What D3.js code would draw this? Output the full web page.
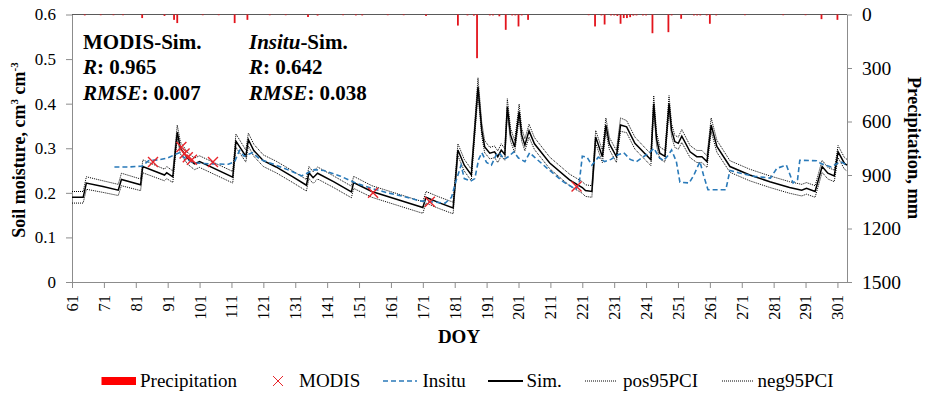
<!DOCTYPE html>
<html>
<head>
<meta charset="utf-8">
<script src="https://cdn.jsdelivr.net/npm/d3@7"></script>
<style>
  body { margin: 0; background: #fff; }
  text { font-family: "Liberation Serif", "Times New Roman", serif; fill: #000; }
</style>
</head>
<body>
<div id="chart"></div>
<script>
// simulated soil moisture, vertices (DOY, cm3/cm3)
var simDays = [61, 64.5, 65.5, 70.7, 75.5, 76.5, 82.5, 83.2, 90, 90.7, 92.6, 94, 95, 97.3, 99.4, 101, 111.4, 112.4, 115.5, 116.3,
  118, 121, 125, 130, 134.5, 135.3, 136.6, 138, 143, 148.6, 149.3, 155, 163, 171, 172, 176, 180.5, 182, 184, 186.2,
  188.3, 189.5, 190.4, 192, 193.5, 194.5, 195.6, 196.7, 197.5, 198.5, 199.8, 201.2, 202, 203, 204.3, 206, 210.8, 217, 221, 222,
  224, 225.2, 227.3, 228.4, 229.5, 231.7, 233, 234.9, 237.5, 242.5, 243.4, 244.3, 245.3, 246.9, 248.2, 249, 250, 251.1, 252.2, 254.8,
  256.9, 258.5, 260.1, 261.4, 263.2, 267.3, 273.5, 279.8, 286, 289.8, 291.3, 294, 296.2, 298, 300, 301.2, 303.2, 304];
var simVals = [0.190, 0.190, 0.222, 0.214, 0.206, 0.230, 0.218, 0.259, 0.240, 0.245, 0.236, 0.336, 0.300, 0.277, 0.265, 0.270, 0.235, 0.316, 0.282, 0.319,
  0.295, 0.272, 0.258, 0.237, 0.217, 0.245, 0.234, 0.244, 0.225, 0.202, 0.223, 0.203, 0.185, 0.167, 0.190, 0.178, 0.166, 0.296, 0.262, 0.240,
  0.438, 0.340, 0.303, 0.289, 0.292, 0.281, 0.296, 0.286, 0.393, 0.330, 0.303, 0.382, 0.330, 0.307, 0.339, 0.310, 0.267, 0.229, 0.212, 0.205,
  0.203, 0.325, 0.281, 0.352, 0.310, 0.281, 0.352, 0.348, 0.311, 0.274, 0.400, 0.320, 0.289, 0.282, 0.400, 0.340, 0.315, 0.311, 0.327, 0.292,
  0.281, 0.281, 0.270, 0.352, 0.304, 0.259, 0.240, 0.225, 0.212, 0.206, 0.210, 0.203, 0.259, 0.244, 0.238, 0.292, 0.266, 0.262];
var posVals = [0.203, 0.203, 0.236, 0.227, 0.219, 0.244, 0.231, 0.274, 0.253, 0.259, 0.249, 0.352, 0.314, 0.290, 0.278, 0.283, 0.248, 0.332, 0.296, 0.334,
  0.309, 0.285, 0.271, 0.250, 0.230, 0.259, 0.247, 0.258, 0.238, 0.215, 0.237, 0.216, 0.198, 0.180, 0.203, 0.191, 0.179, 0.310, 0.275, 0.253,
  0.458, 0.356, 0.317, 0.302, 0.305, 0.294, 0.310, 0.299, 0.411, 0.345, 0.317, 0.399, 0.345, 0.321, 0.354, 0.324, 0.280, 0.242, 0.225, 0.218,
  0.216, 0.340, 0.295, 0.368, 0.324, 0.295, 0.368, 0.362, 0.325, 0.287, 0.418, 0.335, 0.303, 0.295, 0.418, 0.355, 0.329, 0.325, 0.342, 0.306,
  0.295, 0.295, 0.283, 0.368, 0.318, 0.272, 0.253, 0.238, 0.225, 0.219, 0.223, 0.216, 0.273, 0.257, 0.251, 0.306, 0.279, 0.275];
var negVals = [0.177, 0.177, 0.208, 0.201, 0.194, 0.216, 0.205, 0.245, 0.227, 0.232, 0.223, 0.322, 0.287, 0.264, 0.252, 0.257, 0.222, 0.302, 0.269, 0.305,
  0.282, 0.259, 0.245, 0.224, 0.204, 0.232, 0.221, 0.231, 0.212, 0.189, 0.210, 0.190, 0.172, 0.154, 0.177, 0.165, 0.153, 0.283, 0.249, 0.227,
  0.420, 0.326, 0.290, 0.276, 0.279, 0.268, 0.283, 0.273, 0.378, 0.316, 0.290, 0.367, 0.316, 0.294, 0.325, 0.297, 0.254, 0.216, 0.199, 0.192,
  0.190, 0.311, 0.268, 0.338, 0.297, 0.268, 0.338, 0.335, 0.298, 0.261, 0.385, 0.306, 0.276, 0.269, 0.385, 0.326, 0.302, 0.298, 0.313, 0.279,
  0.268, 0.268, 0.257, 0.338, 0.291, 0.246, 0.227, 0.212, 0.199, 0.193, 0.197, 0.190, 0.246, 0.231, 0.225, 0.279, 0.253, 0.249];

// in situ observations
var insituDays = [74.3, 79, 83, 85, 88, 91, 93, 94.7, 96, 99, 105, 110, 112, 113.5, 115, 117.5, 120, 125, 130, 133,
  135, 137, 140, 145, 150, 155, 160, 165, 170, 178, 180, 181.5, 183, 184, 186, 187.3, 188.5, 189.5, 191, 192.5,
  194, 195, 196.5, 198, 199.5, 201, 203, 204.5, 206, 210, 215, 219, 220, 221, 222.5, 224, 226, 228, 230, 232,
  234, 236, 238, 240, 242, 243.5, 245, 246.5, 248, 249, 250.5, 251.6, 254.5, 256, 257.9, 259, 260.4, 266, 267.3, 270,
  275, 280, 282, 285, 287.1, 288.5, 289.2, 294.5, 296, 299, 302, 304];
var insituVals = [0.258, 0.258, 0.260, 0.272, 0.274, 0.278, 0.285, 0.290, 0.280, 0.267, 0.265, 0.264, 0.270, 0.295, 0.282, 0.290, 0.275, 0.262, 0.248, 0.238,
  0.245, 0.252, 0.250, 0.238, 0.222, 0.210, 0.200, 0.192, 0.182, 0.177, 0.190, 0.229, 0.262, 0.232, 0.226, 0.232, 0.275, 0.290, 0.268, 0.262,
  0.285, 0.290, 0.275, 0.282, 0.292, 0.278, 0.270, 0.290, 0.280, 0.255, 0.225, 0.208, 0.220, 0.282, 0.280, 0.262, 0.280, 0.270, 0.275, 0.285,
  0.290, 0.275, 0.270, 0.280, 0.290, 0.300, 0.280, 0.272, 0.285, 0.296, 0.270, 0.224, 0.222, 0.240, 0.270, 0.240, 0.207, 0.207, 0.250, 0.245,
  0.237, 0.233, 0.255, 0.262, 0.222, 0.230, 0.273, 0.272, 0.265, 0.258, 0.270, 0.262];

// MODIS retrievals
var modisDays = [86.4, 95.3, 96.3, 97.3, 98.6, 105.2, 155.4, 173.2, 219.2];
var modisVals = [0.269, 0.303, 0.288, 0.280, 0.274, 0.269, 0.200, 0.180, 0.214];

// daily precipitation, mm
var rainDays = [65, 70, 74, 77, 83, 90, 93, 94, 102, 107, 112, 116, 123, 128, 135, 138, 146, 150, 152, 160,
  165, 172, 182, 185, 187, 188, 192, 193, 195, 197, 199, 200, 201, 202, 204, 223, 225, 227, 228, 230,
  231, 232, 233, 234, 235, 236, 237, 238, 240, 241, 243, 248, 249, 252, 256, 257, 258, 260, 261, 263,
  272, 284, 291, 296, 301];
var rainMm = [5, 4, 4, 4, 20, 8, 30, 48, 4, 4, 48, 30, 4, 4, 14, 6, 4, 5, 5, 4,
  4, 8, 62, 5, 6, 245, 5, 5, 10, 86, 5, 5, 67, 5, 30, 4, 67, 5, 56, 5,
  5, 8, 52, 20, 20, 15, 6, 5, 5, 5, 105, 99, 5, 24, 5, 5, 5, 5, 52, 5,
  4, 4, 4, 26, 30];

var xTicks = d3.range(61, 302, 10);
var yTicks = [0, 0.1, 0.2, 0.3, 0.4, 0.5, 0.6];
var pTicks = [0, 300, 600, 900, 1200, 1500];

var W = 934, H = 397;
var plotL = 72, plotR = 847, plotT = 14.5, plotB = 282;
var axisGrey = '#8c8c8c';
var serif = '"Liberation Serif", "Times New Roman", serif';

var svg = d3.select('#chart').append('svg').attr('width', W).attr('height', H);

var x = d3.scaleLinear().domain([61, 304]).range([plotL, plotR]);
var y = d3.scaleLinear().domain([0, 0.6]).range([plotB, plotT]);
var yP = d3.scaleLinear().domain([0, 1500]).range([plotT, plotB]);

function zip(a, b) { return a.map(function(d, i) { return [d, b[i]]; }); }

// axes
var gx = svg.append('g').attr('transform', 'translate(0,' + plotB + ')')
  .call(d3.axisBottom(x).tickValues(xTicks).tickSize(6).tickSizeOuter(0).tickFormat(d3.format('d')));
gx.selectAll('text').attr('transform', 'rotate(-90)').attr('text-anchor', 'end')
  .attr('x', -13).attr('y', 0).attr('dy', '0.33em').style('font-size', '16.5px');

var gy = svg.append('g').attr('transform', 'translate(' + plotL + ',0)')
  .call(d3.axisLeft(y).tickValues(yTicks).tickSize(6).tickPadding(10).tickSizeOuter(0)
    .tickFormat(function(d) { return d === 0 ? '0' : d3.format('.1f')(d); }));
gy.selectAll('text').style('font-size', '17px');

var gp = svg.append('g').attr('transform', 'translate(' + plotR + ',0)')
  .call(d3.axisRight(yP).tickValues(pTicks).tickSize(5).tickPadding(10).tickSizeOuter(0).tickFormat(d3.format('d')));
gp.selectAll('text').style('font-size', '19.5px');

[gx, gy, gp].forEach(function(g) { g.attr('font-family', serif).attr('font-size', null); });
svg.selectAll('.domain, .tick line').attr('stroke', axisGrey);
svg.selectAll('.tick text').attr('fill', '#000').style('font-family', serif);

// top axis of the precipitation bars
svg.append('line').attr('x1', plotL).attr('x2', plotR).attr('y1', plotT).attr('y2', plotT)
  .attr('stroke', '#5a5a5a').attr('stroke-width', 1);

// precipitation bars hang from the top
svg.append('g').selectAll('rect').data(zip(rainDays, rainMm)).enter().append('rect')
  .attr('x', function(d) { return x(d[0]) - 0.9; })
  .attr('y', plotT)
  .attr('width', 1.8)
  .attr('height', function(d) { return yP(d[1]) - yP(0); })
  .attr('fill', '#e3141c');

var line = d3.line().x(function(d) { return x(d[0]); }).y(function(d) { return y(d[1]); });

svg.append('path').datum(zip(simDays, posVals)).attr('d', line)
  .attr('fill', 'none').attr('stroke', '#000').attr('stroke-width', 1).attr('stroke-dasharray', '1,1');
svg.append('path').datum(zip(simDays, negVals)).attr('d', line)
  .attr('fill', 'none').attr('stroke', '#000').attr('stroke-width', 1).attr('stroke-dasharray', '1,1');
svg.append('path').datum(zip(simDays, simVals)).attr('d', line)
  .attr('fill', 'none').attr('stroke', '#000').attr('stroke-width', 1.5);
svg.append('path').datum(zip(insituDays, insituVals)).attr('d', line)
  .attr('fill', 'none').attr('stroke', '#2a7ab9').attr('stroke-width', 1.6).attr('stroke-dasharray', '5,3');

var cross = 'M-5,-5L5,5M-5,5L5,-5';
svg.append('g').selectAll('path').data(zip(modisDays, modisVals)).enter().append('path')
  .attr('d', cross)
  .attr('transform', function(d) { return 'translate(' + x(d[0]) + ',' + y(d[1]) + ')'; })
  .attr('fill', 'none').attr('stroke', '#e8262c').attr('stroke-width', 1.4);

// statistics
function stat(tx, ty, parts) {
  var t = svg.append('text').attr('x', tx).attr('y', ty).style('font-size', '21px').style('font-weight', 'bold');
  parts.forEach(function(p) {
    t.append('tspan').text(p[0]).style('font-style', p[1] ? 'italic' : 'normal');
  });
}
stat(83, 48.5, [['MODIS-Sim.', false]]);
stat(83, 74, [['R', true], [': 0.965', false]]);
stat(83, 99.5, [['RMSE', true], [': 0.007', false]]);
stat(249, 48.5, [['Insitu', true], ['-Sim.', false]]);
stat(249, 74, [['R', true], [': 0.642', false]]);
stat(249, 99.5, [['RMSE', true], [': 0.038', false]]);

// axis titles
var yt = svg.append('text').attr('transform', 'translate(25,150) rotate(-90)')
  .attr('text-anchor', 'middle').style('font-size', '18px').style('font-weight', 'bold');
yt.append('tspan').text('Soil moisture, cm');
yt.append('tspan').text('3').attr('dy', -7).style('font-size', '11px');
yt.append('tspan').text(' cm').attr('dy', 7);
yt.append('tspan').text('-3').attr('dy', -7).style('font-size', '11px');

svg.append('text').attr('transform', 'translate(908,148) rotate(90)')
  .attr('text-anchor', 'middle').style('font-size', '18.5px').style('font-weight', 'bold')
  .text('Precipitation, mm');

svg.append('text').attr('x', 459).attr('y', 343).attr('text-anchor', 'middle')
  .style('font-size', '19px').style('font-weight', 'bold').text('DOY');

// legend
var ly = 381;
var lg = svg.append('g');
lg.append('rect').attr('x', 101.5).attr('y', ly - 4).attr('width', 34.5).attr('height', 8).attr('fill', '#ff0000');
lg.append('path').attr('d', cross).attr('transform', 'translate(278,' + ly + ')')
  .attr('fill', 'none').attr('stroke', '#e8262c').attr('stroke-width', 1);
lg.append('line').attr('x1', 383).attr('x2', 417).attr('y1', ly).attr('y2', ly)
  .attr('stroke', '#2a7ab9').attr('stroke-width', 1.6).attr('stroke-dasharray', '5,3');
lg.append('line').attr('x1', 488).attr('x2', 523).attr('y1', ly).attr('y2', ly)
  .attr('stroke', '#000').attr('stroke-width', 1.8);
lg.append('line').attr('x1', 585).attr('x2', 617).attr('y1', ly).attr('y2', ly)
  .attr('stroke', '#000').attr('stroke-width', 1).attr('stroke-dasharray', '1,1');
lg.append('line').attr('x1', 722).attr('x2', 753).attr('y1', ly).attr('y2', ly)
  .attr('stroke', '#000').attr('stroke-width', 1).attr('stroke-dasharray', '1,1');

var legendText = [['Precipitation', 140], ['MODIS', 299], ['Insitu', 422.5], ['Sim.', 526.5], ['pos95PCI', 623], ['neg95PCI', 757.5]];
lg.selectAll('text.lt').data(legendText).enter().append('text').attr('class', 'lt')
  .attr('x', function(d) { return d[1]; }).attr('y', ly + 6)
  .style('font-size', '19px').text(function(d) { return d[0]; });
</script>
</body>
</html>
